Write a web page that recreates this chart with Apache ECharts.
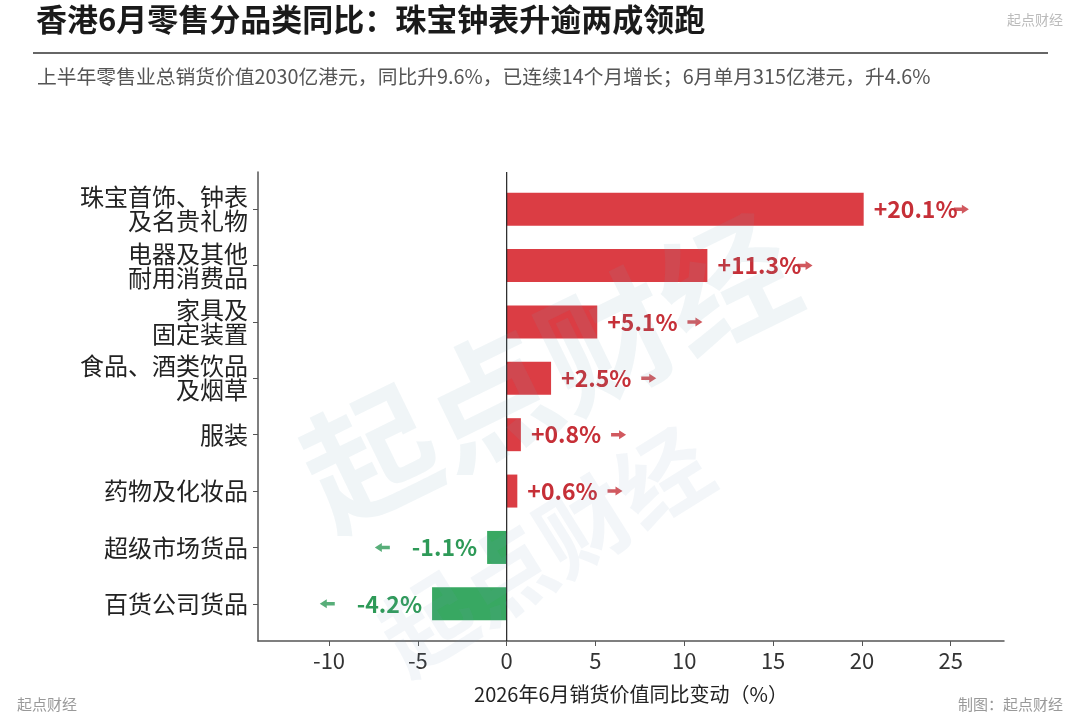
<!DOCTYPE html>
<html>
<head>
<meta charset="utf-8">
<script src="https://cdn.jsdelivr.net/npm/echarts@6/dist/echarts.min.js"></script>
<style>html,body{margin:0;padding:0;background:#fff}#c{width:1080px;height:720px}</style>
</head>
<body>
<div id="c"></div>
<script>
const categories = ['珠宝首饰、钟表\n及名贵礼物', '电器及其他\n耐用消费品', '家具及\n固定装置', '食品、酒类饮品\n及烟草', '服装', '药物及化妆品', '超级市场货品', '百货公司货品'];
const values = [20.1, 11.3, 5.1, 2.5, 0.8, 0.6, -1.1, -4.2];
const xTicks = [-10, -5, 0, 5, 10, 15, 20, 25];

const FONT = 'Noto Sans CJK SC';
const RED_BAR = '#DB3D44', RED_TXT = '#C62F37';
const GREEN_BAR = '#38A862', GREEN_TXT = '#2E9A58';
const arrowPath = 'path://M0,3 L8,3 L8,0 L15,5 L8,10 L8,7 L0,7 Z';

const chart = echarts.init(document.getElementById('c'), null, {renderer: 'canvas'});

const barData = values.map(v => ({
  value: v,
  itemStyle: {color: v >= 0 ? RED_BAR : GREEN_BAR},
  label: {position: v >= 0 ? 'right' : 'left', color: v >= 0 ? RED_TXT : GREEN_TXT}
}));
const arrowData = values.map((v, i) => ({
  value: [v >= 0 ? v + 5.5 : v - 5.9, i],
  symbolRotate: v >= 0 ? 0 : 180,
  itemStyle: {color: v >= 0 ? RED_TXT : GREEN_TXT}
}));

const deg = Math.PI / 180;
chart.setOption({
  animation: false,
  backgroundColor: '#fff',
  textStyle: {fontFamily: FONT},
  title: [
    {text: '香港6月零售分品类同比：珠宝钟表升逾两成领跑', left: 31, top: -1,
     textStyle: {fontFamily: FONT, fontSize: 31, fontWeight: 'bold', color: '#1a1a1a'}},
    {text: '上半年零售业总销货价值2030亿港元，同比升9.6%，已连续14个月增长；6月单月315亿港元，升4.6%', left: 32, top: 62,
     textStyle: {fontFamily: FONT, fontSize: 19.8, fontWeight: 'normal', color: '#555'}},
    {text: '起点财经', right: 12, top: 8, textStyle: {fontFamily: FONT, fontSize: 14, fontWeight: 'normal', color: '#bbb'}},
    {text: '起点财经', left: 12, top: 692, textStyle: {fontFamily: FONT, fontSize: 15, fontWeight: 'normal', color: '#999'}},
    {text: '制图：起点财经', right: 12, top: 692, textStyle: {fontFamily: FONT, fontSize: 15, fontWeight: 'normal', color: '#999'}}
  ],
  graphic: [
    {type: 'line', shape: {x1: 33, y1: 53, x2: 1048, y2: 53}, style: {stroke: '#666', lineWidth: 2}, silent: true},
    {type: 'text', x: 548, y: 370, rotation: 26 * deg, z: 100, silent: true,
     style: {text: '起点财经', fontFamily: FONT, fontSize: 132, fontWeight: 'bold', fill: 'rgba(120,160,185,0.11)', align: 'center', verticalAlign: 'middle'}},
    {type: 'text', x: 545, y: 550, rotation: 32 * deg, z: 100, silent: true,
     style: {text: '起点财经', fontFamily: FONT, fontSize: 92, fontWeight: 'bold', fill: 'rgba(120,160,185,0.09)', align: 'center', verticalAlign: 'middle'}}
  ],
  grid: [
    {left: 258, right: 76, top: 172, bottom: 79},
    {left: 258, right: 76, top: 181, bottom: 88}
  ],
  xAxis: [
    {type: 'value', gridIndex: 0, min: -14, max: 28,
     axisLine: {show: true, onZero: false, lineStyle: {color: '#555', width: 1.5}},
     axisTick: {show: true, customValues: xTicks, length: 5, lineStyle: {color: '#555'}},
     axisLabel: {customValues: xTicks, fontSize: 22, color: '#333', margin: 9, fontFamily: FONT},
     splitLine: {show: false},
     name: '2026年6月销货价值同比变动（%）', nameLocation: 'middle', nameGap: 43,
     nameTextStyle: {fontSize: 20, color: '#222', fontFamily: FONT}},
    {type: 'value', gridIndex: 1, min: -14, max: 28, show: false}
  ],
  yAxis: [
    {type: 'value', gridIndex: 0, min: 0, max: 1,
     axisLine: {show: true, onZero: false, lineStyle: {color: '#555', width: 1.5}},
     axisTick: {show: false}, axisLabel: {show: false}, splitLine: {show: false}},
    {type: 'category', gridIndex: 1, data: categories, inverse: true,
     axisLine: {show: false, onZero: false},
     axisTick: {show: true, alignWithLabel: true, length: 5, lineStyle: {color: '#555'}},
     axisLabel: {fontSize: 24, lineHeight: 24, color: '#222', margin: 10, fontFamily: FONT}}
  ],
  series: [
    {type: 'line', xAxisIndex: 0, yAxisIndex: 0, data: [[0, 0], [0, 1]], symbol: 'none', silent: true,
     lineStyle: {color: '#222', width: 1.2}, z: 5},
    {type: 'bar', xAxisIndex: 1, yAxisIndex: 1, data: barData, barWidth: 33, z: 3,
     label: {show: true, distance: 10, fontSize: 23, fontWeight: 'bold', fontFamily: FONT,
       formatter: p => (p.value > 0 ? '+' : '') + p.value.toFixed(1) + '%'}},
    {type: 'scatter', xAxisIndex: 1, yAxisIndex: 1, data: arrowData, symbol: arrowPath, symbolSize: [15, 9], z: 4, silent: true}
  ]
});
</script>
</body>
</html>
